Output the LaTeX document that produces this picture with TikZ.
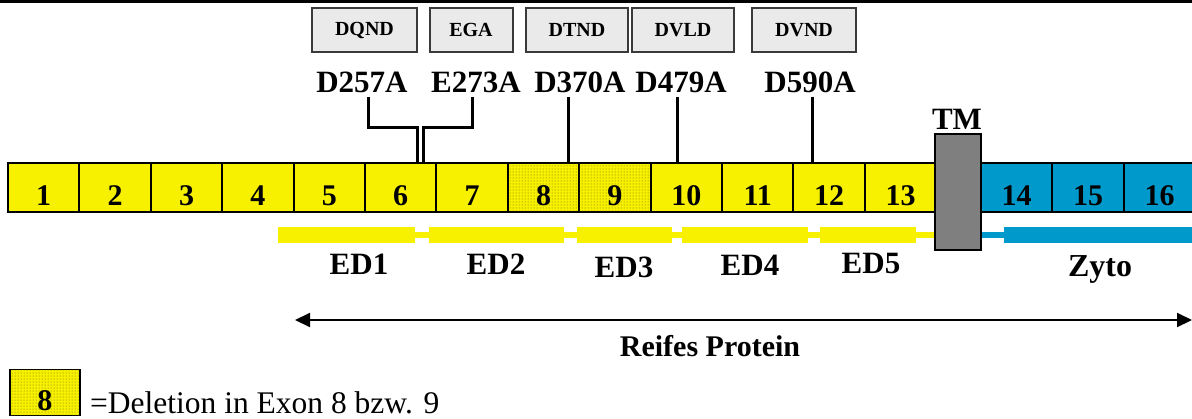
\documentclass[tikz,border=0pt]{standalone}
\usepackage{fontspec}
\setmainfont{Liberation Serif}
\usetikzlibrary{arrows.meta,patterns}

\definecolor{exYellow}{HTML}{F7F100}
\definecolor{exCyan}{HTML}{0099CC}
\definecolor{exTM}{HTML}{7F7F7F}
\definecolor{exBox}{HTML}{EAEAEA}
\definecolor{exEdge}{HTML}{3A3A3A}
\definecolor{exDots}{HTML}{6E6600}

\begin{document}
\begin{tikzpicture}[x=1pt,y=-1pt,
  exon/.style={draw,line width=2pt,fill=exYellow,minimum width=71.4pt,minimum height=49pt,
    inner sep=0pt,text height=40pt,text depth=5pt,font=\fontsize{30}{30}\selectfont\bfseries},
  delexon/.style={exon,postaction={pattern=dots,pattern color=exDots}},
  cytexon/.style={exon,fill=exCyan},
  motif/.style={draw=exEdge,line width=2pt,fill=exBox,minimum height=44pt,inner sep=0pt,
    font=\fontsize{20}{20}\selectfont\bfseries},
  mutlab/.style={anchor=base,inner sep=4pt,font=\fontsize{31}{31}\selectfont\bfseries},
  domlab/.style={anchor=base,inner sep=0pt,font=\fontsize{31}{31}\selectfont\bfseries},
  conn/.style={line width=3pt}]
  \useasboundingbox (0,0) rectangle (1192,418);
  \draw[line width=3pt] (0,1.5) -- (1192,1.5);

  \fill[exYellow] (278,232) rectangle (935,238);
  \foreach \a/\b in {278/415,429/564,577/672,682/808,820/916}
    \fill[exYellow] (\a,227) rectangle (\b,243);
  \fill[exCyan] (981,232) rectangle (1192,238);
  \fill[exCyan] (1004,227) rectangle (1196,243);

  \foreach \i in {1,2,3,4,5,6,7,10,11,12,13}
    \node[exon] (e\i) at ({8+71.4*(\i-0.5)},187.5) {\i};
  \foreach \i in {8,9}
    \node[delexon] (e\i) at ({8+71.4*(\i-0.5)},187.5) {\i};
  \foreach \i in {14,15,16}
    \node[cytexon] (e\i) at ({981+71.4*(\i-13.5)},187.5) {\i};

  \node[draw,line width=2.5pt,fill=exTM,minimum width=46pt,minimum height=116pt,inner sep=0pt] (tm) at (958,192) {};
  \node[domlab] (tmlab) at (957,129) {TM};

  \node[motif,minimum width=105pt] (dqnd) at (364.5,30) {DQND};
  \node[motif,minimum width=83pt] (ega) at (471,30) {EGA};
  \node[motif,minimum width=102pt] (dtnd) at (577,30) {DTND};
  \node[motif,minimum width=102pt] (dvld) at (683,30) {DVLD};
  \node[motif,minimum width=104pt] (dvnd) at (804,30) {DVND};

  \node[mutlab] (m257) at (362,92) {D257A};
  \node[mutlab] (m273) at (476,92) {E273A};
  \node[mutlab] (m370) at (580,92) {D370A};
  \node[mutlab] (m479) at (681,92) {D479A};
  \node[mutlab] (m590) at (810,92) {D590A};

  \coordinate (c257) at (417,163);
  \coordinate (c273) at (423,163);
  \coordinate (c370) at (568,163);
  \coordinate (c479) at (677,163);
  \coordinate (c590) at (812,163);
  \draw[conn] ([xshift=6pt]m257.south) -- ++(0,31) -| (c257);
  \draw[conn] ([xshift=-4pt]m273.south) -- ++(0,31) -| (c273);
  \draw[conn] (m370.south -| c370) -- (c370);
  \draw[conn] (m479.south -| c479) -- (c479);
  \draw[conn] (m590.south -| c590) -- (c590);

  \node[domlab] (ed1) at (359,274) {ED1};
  \node[domlab] (ed2) at (496,274) {ED2};
  \node[domlab] (ed3) at (624,277) {ED3};
  \node[domlab] (ed4) at (750,275) {ED4};
  \node[domlab] (ed5) at (871,273) {ED5};
  \node[domlab,font=\fontsize{32}{32}\selectfont\bfseries] (zyto) at (1100,276) {Zyto};

  \coordinate (ps) at (295,320);
  \coordinate (pe) at (1192,320);
  \draw[{Triangle[length=15pt,width=14pt]}-{Triangle[length=15pt,width=14pt]},line width=2pt] (ps) -- (pe);
  \node[domlab,font=\fontsize{30}{30}\selectfont\bfseries] (reif) at (710,356) {Reifes Protein};

  \node[delexon,minimum width=70pt,minimum height=46pt,line width=1.5pt] (leg) at (45,392.5) {8};
  \node[anchor=base west,inner sep=0pt,font=\fontsize{31.5}{31.5}\selectfont] (legtxt) at (90,413) {=Deletion in Exon 8 bzw. 9};
\end{tikzpicture}
\end{document}
